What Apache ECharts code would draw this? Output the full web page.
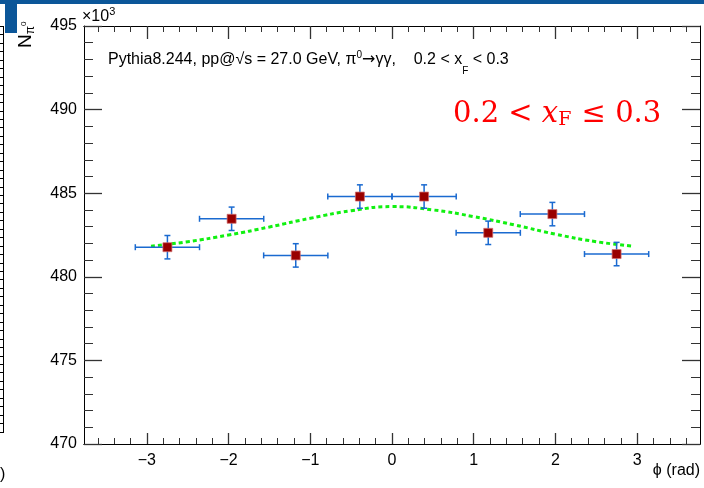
<!DOCTYPE html>
<html>
<head>
<meta charset="utf-8">
<script src="https://cdn.jsdelivr.net/npm/echarts@6/dist/echarts.min.js"></script>
<style>
  html, body { margin: 0; padding: 0; background: #fff; }
  #chart { width: 704px; height: 488px; }
</style>
</head>
<body>
<div id="chart"></div>
<script>
// data points (N in units of 10^3)
const phiCenters = [-2.749, -1.963, -1.178, -0.393, 0.393, 1.178, 1.963, 2.749]
const phiHalfWidth = [0.393, 0.393, 0.393, 0.393, 0.393, 0.393, 0.393, 0.393]
const counts = [481.77, 483.47, 481.28, 484.80, 484.80, 482.63, 483.75, 481.36]
const countErr = [0.70, 0.70, 0.70, 0.70, 0.70, 0.70, 0.70, 0.70]

// fit curve
const fitPhi = [-2.95, -2.5, -2.0, -1.5, -1.0, -0.5, 0.0, 0.5, 1.0, 1.5, 2.0, 2.5, 2.95]
const fitCounts = [481.83, 482.10, 482.50, 482.98, 483.50, 483.95, 484.20, 484.00, 483.60, 483.10, 482.55, 482.10, 481.83]

// axis ticks
const xMajorTicks = [-3, -2, -1, 0, 1, 2, 3]
const xMinorTicks = []
for (let i = -18; i <= 18; i++) {
    if (i % 5 !== 0) xMinorTicks.push(i / 5)
}
const xMin = -3.7699
const xMax = 3.7699

const font = 'Liberation Sans, Arial, sans-serif'
const serif = 'DejaVu Serif, Liberation Serif, serif'
const tickColor = '#333'

const chart = echarts.init(document.getElementById('chart'))

const gridBox = { left: 84, right: 4, top: 26, bottom: 44 }

const minus = v => (v < 0 ? '\u2212' + (-v) : '' + v)

const xAxisBase = (gridIndex, position) => ({
    type: 'value', gridIndex, position, min: xMin, max: xMax,
    splitLine: { show: false },
    axisLine: { show: true, onZero: false, lineStyle: { color: '#000', width: 1 } }
})

const yAxisBase = (position) => ({
    type: 'value', gridIndex: 0, position, min: 470, max: 495, interval: 5,
    splitLine: { show: false },
    axisLine: { show: true, onZero: false, lineStyle: { color: '#000', width: 1 } },
    axisTick: { inside: true, length: 18, lineStyle: { color: tickColor, width: 1.3 } },
    minorTick: { show: true, splitNumber: 5, length: 9, lineStyle: { color: tickColor, width: 1 } }
})

const errData = phiCenters.map((x, i) => [x, counts[i], phiHalfWidth[i], countErr[i]])

// left-side leftover frame pieces
const leftTicks = []
for (let y = 26; y <= 433; y += 8.45) {
    leftTicks.push({ type: 'line', shape: { x1: 0, y1: Math.round(y) + 0.5, x2: 3.5, y2: Math.round(y) + 0.5 }, style: { stroke: '#000', lineWidth: 1 } })
}

const option = {
    animation: false,
    backgroundColor: '#fff',
    grid: [
        Object.assign({}, gridBox),
        Object.assign({}, gridBox)
    ],
    xAxis: [
        Object.assign(xAxisBase(0, 'bottom'), {
            axisTick: { inside: true, length: 11, customValues: xMajorTicks, lineStyle: { color: tickColor, width: 1.3 } },
            axisLabel: { customValues: xMajorTicks, formatter: minus, color: '#000', fontSize: 16, fontFamily: font, margin: 9 }
        }),
        Object.assign(xAxisBase(0, 'top'), {
            axisTick: { inside: true, length: 13, customValues: xMajorTicks, lineStyle: { color: tickColor, width: 1.3 } },
            axisLabel: { show: false }
        }),
        Object.assign(xAxisBase(1, 'bottom'), {
            axisTick: { inside: true, length: 6, customValues: xMinorTicks, lineStyle: { color: tickColor, width: 1 } },
            axisLabel: { show: false }
        }),
        Object.assign(xAxisBase(1, 'top'), {
            axisTick: { inside: true, length: 6, customValues: xMinorTicks, lineStyle: { color: tickColor, width: 1 } },
            axisLabel: { show: false }
        })
    ],
    yAxis: [
        Object.assign(yAxisBase('left'), {
            axisLabel: { color: '#000', fontSize: 16, fontFamily: font, margin: 7 }
        }),
        Object.assign(yAxisBase('right'), {
            axisLabel: { show: false }
        }),
        { type: 'value', gridIndex: 1, min: 470, max: 495, show: false }
    ],
    series: [
        {
            name: 'fit',
            type: 'line',
            xAxisIndex: 0, yAxisIndex: 0,
            data: fitPhi.map((x, i) => [x, fitCounts[i]]),
            smooth: true,
            showSymbol: false,
            lineStyle: { color: '#11f011', width: 3, type: [4, 3] },
            z: 2
        },
        {
            name: 'errors',
            type: 'custom',
            xAxisIndex: 0, yAxisIndex: 0,
            data: errData,
            renderItem: (params, api) => {
                const x = api.value(0), y = api.value(1), dx = api.value(2), dy = api.value(3)
                const l = api.coord([x - dx, y]), r = api.coord([x + dx, y])
                const t = api.coord([x, y + dy]), b = api.coord([x, y - dy])
                const c = 3
                const st = { stroke: '#1a6ad0', lineWidth: 1.5 }
                return {
                    type: 'group',
                    children: [
                        { type: 'line', shape: { x1: l[0], y1: l[1], x2: r[0], y2: r[1] }, style: st },
                        { type: 'line', shape: { x1: t[0], y1: t[1], x2: b[0], y2: b[1] }, style: st },
                        { type: 'line', shape: { x1: l[0], y1: l[1] - c, x2: l[0], y2: l[1] + c }, style: st },
                        { type: 'line', shape: { x1: r[0], y1: r[1] - c, x2: r[0], y2: r[1] + c }, style: st },
                        { type: 'line', shape: { x1: t[0] - c, y1: t[1], x2: t[0] + c, y2: t[1] }, style: st },
                        { type: 'line', shape: { x1: b[0] - c, y1: b[1], x2: b[0] + c, y2: b[1] }, style: st }
                    ]
                }
            },
            z: 3
        },
        {
            name: 'data',
            type: 'scatter',
            xAxisIndex: 0, yAxisIndex: 0,
            data: phiCenters.map((x, i) => [x, counts[i]]),
            symbol: 'rect',
            symbolSize: 9,
            itemStyle: { color: '#990000', borderColor: 'rgba(210,110,110,0.7)', borderWidth: 1, opacity: 1 },
            z: 4
        }
    ],
    graphic: [
        { type: 'rect', shape: { x: 0, y: 0, width: 704, height: 4 }, style: { fill: '#0b5699' } },
        { type: 'rect', shape: { x: 5, y: 0, width: 12, height: 33 }, style: { fill: '#0b5699' } },
        { type: 'line', shape: { x1: 3.5, y1: 26, x2: 3.5, y2: 433 }, style: { stroke: '#000', lineWidth: 1 } },
        ...leftTicks,
        { type: 'text', x: 0, y: 475, style: { text: ')', font: '16px ' + font, fill: '#000', verticalAlign: 'middle' } },
        {
            type: 'text', x: 82, y: 17,
            style: {
                text: '{a|×10}{s|3}', verticalAlign: 'middle',
                rich: {
                    a: { font: '16px ' + font, fill: '#000' },
                    s: { font: '11px ' + font, fill: '#000', padding: [0, 0, 10, 0] }
                }
            }
        },
        {
            type: 'text', x: 26, y: 48, rotation: Math.PI / 2,
            style: {
                text: '{n|N}{p|π}{z|0}', align: 'left', verticalAlign: 'middle',
                rich: {
                    n: { font: '19px ' + font, fill: '#000' },
                    p: { font: '12px ' + font, fill: '#000', padding: [10, 0, 0, 0] },
                    z: { font: '8px ' + font, fill: '#000', padding: [0, 0, 4, 0] }
                }
            }
        },
        {
            type: 'text', x: 700, y: 471,
            style: { text: 'ϕ (rad)', font: '16px ' + font, fill: '#000', align: 'right', verticalAlign: 'middle' }
        },
        {
            type: 'text', x: 108, y: 60,
            style: {
                text: '{t|Pythia8.244, pp@√s = 27.0 GeV, π}{s|0}{a|→}{t|γγ,    0.2 < x}{b|F}{t| < 0.3}',
                verticalAlign: 'middle',
                rich: {
                    t: { font: '16px ' + font, fill: '#000' },
                    a: { font: '16px DejaVu Sans, sans-serif', fill: '#000' },
                    s: { font: '10px ' + font, fill: '#000', padding: [0, 0, 10, 0] },
                    b: { font: '10px ' + font, fill: '#000', padding: [22, 0, 0, 0] }
                }
            }
        },
        {
            type: 'text', x: 453, y: 114,
            style: {
                text: '{n|0.2 < }{x|x}{f|F}{n| ≤ 0.3}',
                verticalAlign: 'middle',
                rich: {
                    n: { font: '29px ' + serif, fill: '#ff0000' },
                    x: { font: 'italic 29px ' + serif, fill: '#ff0000' },
                    f: { font: '19px ' + serif, fill: '#ff0000', padding: [12, 1, 0, 0] }
                }
            }
        }
    ]
}

chart.setOption(option)
</script>
</body>
</html>
